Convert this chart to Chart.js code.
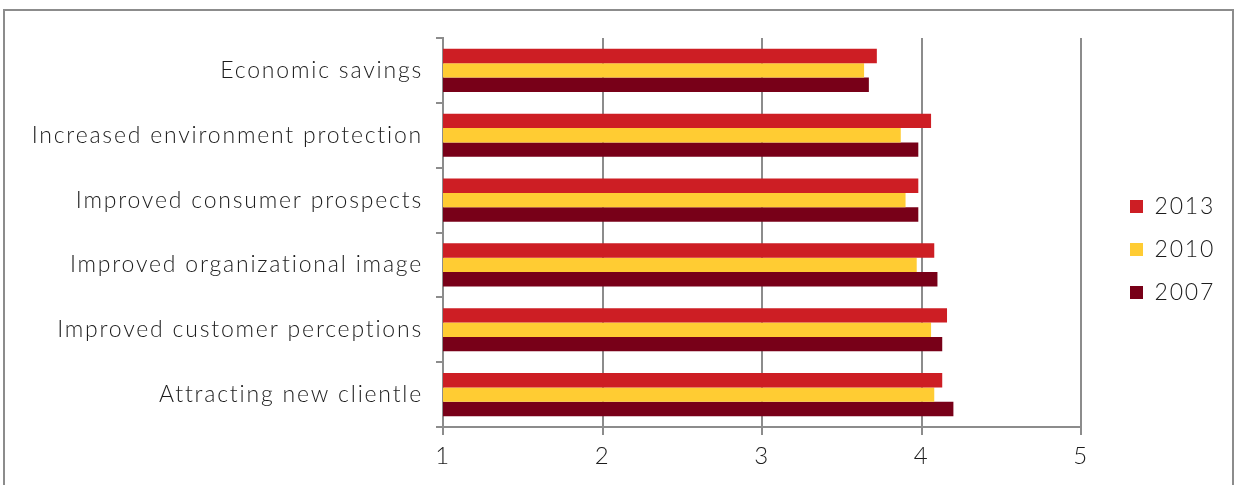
<!DOCTYPE html>
<html>
<head>
<meta charset="utf-8">
<script src="https://cdn.jsdelivr.net/npm/chart.js@4/dist/chart.umd.min.js"></script>
<style>
  html, body { margin: 0; padding: 0; background: #ffffff; }
  #wrap { position: relative; width: 1235px; height: 485px; overflow: hidden; }
  #frame { position: absolute; left: 3px; top: 9px; width: 1227px; height: 500px;
           border: 2px solid #8c8c8c; border-bottom: none; pointer-events: none; }
  canvas { position: absolute; left: 0; top: 0; }
</style>
</head>
<body>
<div id="wrap">
  <canvas id="c" width="1235" height="485"></canvas>
  <div id="frame"></div>
</div>
<script>
const categories = [
  "Economic savings",
  "Increased environment protection",
  "Improved consumer prospects",
  "Improved organizational image",
  "Improved customer perceptions",
  "Attracting new clientle"
];
const seriesNames = ["2013", "2010", "2007"];
const values2013 = [3.72, 4.06, 3.98, 4.08, 4.16, 4.13];
const values2010 = [3.64, 3.87, 3.90, 3.97, 4.06, 4.08];
const values2007 = [3.67, 3.98, 3.98, 4.10, 4.13, 4.20];
const xTicks = [1, 2, 3, 4, 5];
const colors = ["#cd1e24", "#ffcc33", "#780018"];

const FONT = "Lato, 'Open Sans', 'DejaVu Sans', sans-serif";
const WEIGHT = 300;
const TEXT = '#1c1c1c';

const legendPlace = {
  id: 'legendPlace',
  beforeLayout(chart) {
    const lg = chart.legend;
    if (lg && !lg._patched) {
      const f = lg.fit;
      lg.fit = function () { f.call(this); this.width = 154; };
      lg._patched = true;
    }
  },
  afterLayout(chart) {
    const lg = chart.legend;
    if (!lg) return;
    const dx = 1110 - lg.left;
    lg.left += dx; lg.right += dx;
    lg.top -= 12; lg.bottom -= 12;
  },
  beforeDraw(chart) {
    chart.ctx.letterSpacing = '1.8px';
  }
};

new Chart(document.getElementById('c'), {
  type: 'bar',
  data: {
    labels: categories,
    datasets: [
      { label: seriesNames[0], data: values2013, backgroundColor: colors[0] },
      { label: seriesNames[1], data: values2010, backgroundColor: colors[1] },
      { label: seriesNames[2], data: values2007, backgroundColor: colors[2] }
    ]
  },
  plugins: [legendPlace],
  options: {
    indexAxis: 'y',
    responsive: false,
    animation: false,
    devicePixelRatio: 1,
    layout: { padding: { top: 38, left: 0, right: 0, bottom: 0 } },
    datasets: { bar: { categoryPercentage: 0.667, barPercentage: 1.0, borderWidth: 0 } },
    scales: {
      x: {
        min: xTicks[0],
        max: xTicks[xTicks.length - 1],
        afterBuildTicks: (s) => { s.ticks = xTicks.map(v => ({ value: v })); },
        grid: { color: '#8c8c8c', lineWidth: 2, drawTicks: true, tickLength: 8, tickColor: '#8c8c8c' },
        border: { display: true, color: '#8c8c8c', width: 2 },
        ticks: { color: TEXT, font: { family: FONT, size: 24, weight: WEIGHT }, padding: 7 },
        afterFit: (s) => { s.height = 58; }
      },
      y: {
        grid: { offset: true, drawOnChartArea: false, drawTicks: true, tickLength: 7, color: '#8c8c8c', lineWidth: 2 },
        border: { display: true, color: '#8c8c8c', width: 2 },
        ticks: { color: TEXT, font: { family: FONT, size: 23, weight: WEIGHT }, padding: 13 },
        afterFit: (s) => { s.width = 443; }
      }
    },
    plugins: {
      tooltip: { enabled: false },
      legend: {
        position: 'right',
        align: 'center',
        labels: {
          color: TEXT,
          font: { family: FONT, size: 23, weight: WEIGHT },
          boxWidth: 13,
          boxHeight: 13,
          padding: 20
        }
      }
    }
  }
});
</script>
</body>
</html>
